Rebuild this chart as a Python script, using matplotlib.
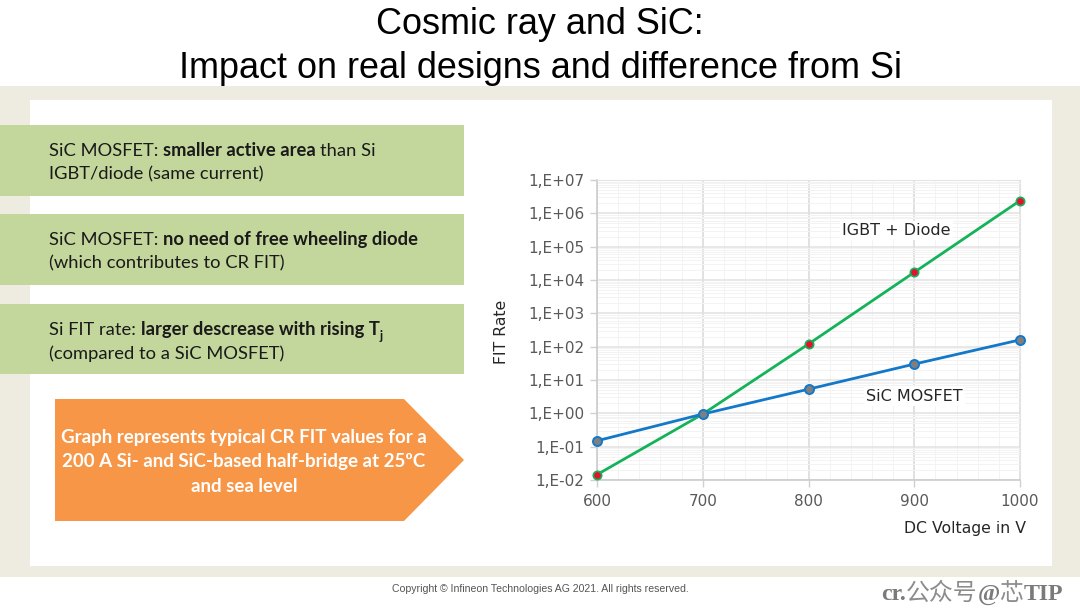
import matplotlib
matplotlib.use('Agg')
import matplotlib.pyplot as plt
from matplotlib.patches import Rectangle, Polygon
from matplotlib.ticker import FixedLocator, FixedFormatter, LogLocator, NullFormatter

plt.rcParams['font.family'] = ['DejaVu Sans']

W, H = 1080, 608

voltage = [600, 700, 800, 900, 1000]
fit_igbt = [0.0145, 0.95, 120, 17000, 2400000]
fit_sic = [0.15, 0.95, 5.3, 30, 160]

x_ticks = [600, 700, 800, 900, 1000]
x_minor = [620, 640, 660, 680, 720, 740, 760, 780, 820, 840, 860, 880, 920, 940, 960, 980]
y_ticks = [1e-2, 1e-1, 1e0, 1e1, 1e2, 1e3, 1e4, 1e5, 1e6, 1e7]
y_labels = ['1,E-02', '1,E-01', '1,E+00', '1,E+01', '1,E+02', '1,E+03', '1,E+04', '1,E+05', '1,E+06', '1,E+07']

SLIDE_FONT = 'Lato'
BEIGE = '#EEECE1'
GREEN = '#C3D69B'
ORANGE = '#F79646'

fig = plt.figure(figsize=(W / 100, H / 100), dpi=100, facecolor='white')

# slide background, in pixel coords
bg = fig.add_axes([0, 0, 1, 1])
bg.set_xlim(0, W)
bg.set_ylim(H, 0)
bg.axis('off')
bg.add_patch(Rectangle((0, 86), W, 491, fc=BEIGE, ec='none'))
bg.add_patch(Rectangle((30, 100), 1022, 466, fc='white', ec='none'))
bg.add_patch(Rectangle((0, 125), 464, 71, fc=GREEN, ec='none'))
bg.add_patch(Rectangle((0, 214), 464, 71, fc=GREEN, ec='none'))
bg.add_patch(Rectangle((0, 304), 464, 70, fc=GREEN, ec='none'))
bg.add_patch(Polygon([(55, 399), (404, 399), (464, 460), (404, 521), (55, 521)], fc=ORANGE, ec='none'))

bg.text(540, 24, 'Cosmic ray and SiC:', family='Liberation Sans', fontsize=25.9, ha='center', va='center', color='black')
bg.text(540, 68, 'Impact on real designs and difference from Si', family='Liberation Sans', fontsize=25.9, ha='center', va='center', color='black')


# writes text pieces one after the other on the same baseline
def runs(x, y, pieces, size=13.2):
    rend = fig.canvas.get_renderer()
    for txt, weight in pieces:
        t = bg.text(x, y, txt, family=SLIDE_FONT, fontsize=size, fontweight=weight, va='baseline', ha='left', color='#1a1a1a')
        x += t.get_window_extent(rend).width
    return x


runs(49, 156, [('SiC MOSFET: ', 'normal'), ('smaller active area ', 'bold'), ('than Si', 'normal')])
runs(49, 179, [('IGBT/diode (same current)', 'normal')])
runs(49, 245, [('SiC MOSFET: ', 'normal'), ('no need of free wheeling diode', 'bold')])
runs(49, 268, [('(which contributes to CR FIT)', 'normal')])
end = runs(49, 335, [('Si FIT rate: ', 'normal'), ('larger descrease with rising T', 'bold')])
bg.text(end, 340, 'j', family=SLIDE_FONT, fontsize=9, fontweight='bold', va='baseline', color='#1a1a1a')
runs(49, 359, [('(compared to a SiC MOSFET)', 'normal')])

for yy, line in zip([438, 462, 486], ['Graph represents typical CR FIT values for a',
                                      '200 A Si- and SiC-based half-bridge at 25ºC',
                                      'and sea level']):
    bg.text(244, yy, line, family=SLIDE_FONT, fontsize=13.5, fontweight='bold', color='white', ha='center', va='center')

bg.text(540, 589, 'Copyright © Infineon Technologies AG 2021. All rights reserved.', family='Liberation Sans',
        fontsize=7.6, color='#555555', ha='center', va='center')

# watermark: latin bold serif, chinese thin
wm_x = 881
rend = fig.canvas.get_renderer()
for txt, fam, weight, col in [('cr.', 'Liberation Serif', 'bold', '#7a7a7a'),
                              ('公众号', 'Noto Sans CJK SC', 'light', '#8c8c8c'),
                              ('@', 'Liberation Serif', 'bold', '#7a7a7a'),
                              ('芯', 'Noto Sans CJK SC', 'light', '#8c8c8c'),
                              ('TIP', 'Liberation Serif', 'bold', '#7a7a7a')]:
    t = bg.text(wm_x, 600, txt, family=fam, fontweight=weight, fontsize=17.2, color=col, ha='left', va='baseline')
    wm_x += t.get_window_extent(rend).width

# chart
ax = fig.add_axes([597 / W, 1 - 480 / H, 423 / W, 300 / H])
ax.set_facecolor('none')
ax.set_yscale('log')
ax.set_xlim(600, 1000)
ax.set_ylim(1e-2, 1e7)

ax.xaxis.set_major_locator(FixedLocator(x_ticks))
ax.xaxis.set_minor_locator(FixedLocator(x_minor))
ax.yaxis.set_major_locator(FixedLocator(y_ticks))
ax.yaxis.set_major_formatter(FixedFormatter(y_labels))
ax.yaxis.set_minor_locator(LogLocator(base=10, subs=range(2, 10), numticks=20))
ax.yaxis.set_minor_formatter(NullFormatter())

ax.grid(True, which='major', axis='x', color='#D9D9D9', lw=1.1)
ax.grid(True, which='major', axis='y', color='#E2E2E2', lw=1.1)
ax.grid(True, which='minor', color='#F3F3F3', lw=0.7)
ax.set_axisbelow(True)
ax.tick_params(which='major', length=5, width=1, color='#D0D0D0', labelsize=11, labelcolor='#595959', pad=4)
ax.tick_params(axis='x', which='major', pad=5)
ax.tick_params(which='minor', length=0)
for side in ['top', 'right']:
    ax.spines[side].set_color('#E4E4E4')
for side in ['left', 'bottom']:
    ax.spines[side].set_color('#CCCCCC')
    ax.spines[side].set_linewidth(1.2)

ax.plot(voltage, fit_igbt, color='#14B359', lw=2, marker='o', ms=6, mfc='#E8102F', mec='#14B359', mew=1.2, clip_on=False, zorder=3)
ax.plot(voltage, fit_sic, color='#1478C8', lw=2, marker='o', ms=6.5, mfc='#7F7F7F', mec='#1478C8', mew=1.4, clip_on=False, zorder=4)

label_box = dict(fc='white', ec='none', pad=1.5)
ax.text(883, 3e5, 'IGBT + Diode', fontsize=11.5, color='#262626', ha='center', va='center', bbox=label_box, zorder=5)
ax.text(900, 3.3, 'SiC MOSFET', fontsize=11.5, color='#262626', ha='center', va='center', bbox=label_box, zorder=5)

bg.text(502, 332, 'FIT Rate', fontsize=11.3, color='#262626', rotation=90, ha='center', va='center')
bg.text(1026, 528, 'DC Voltage in V', fontsize=11.3, color='#262626', ha='right', va='center')

fig.savefig('out.png', dpi=100, facecolor='white')
